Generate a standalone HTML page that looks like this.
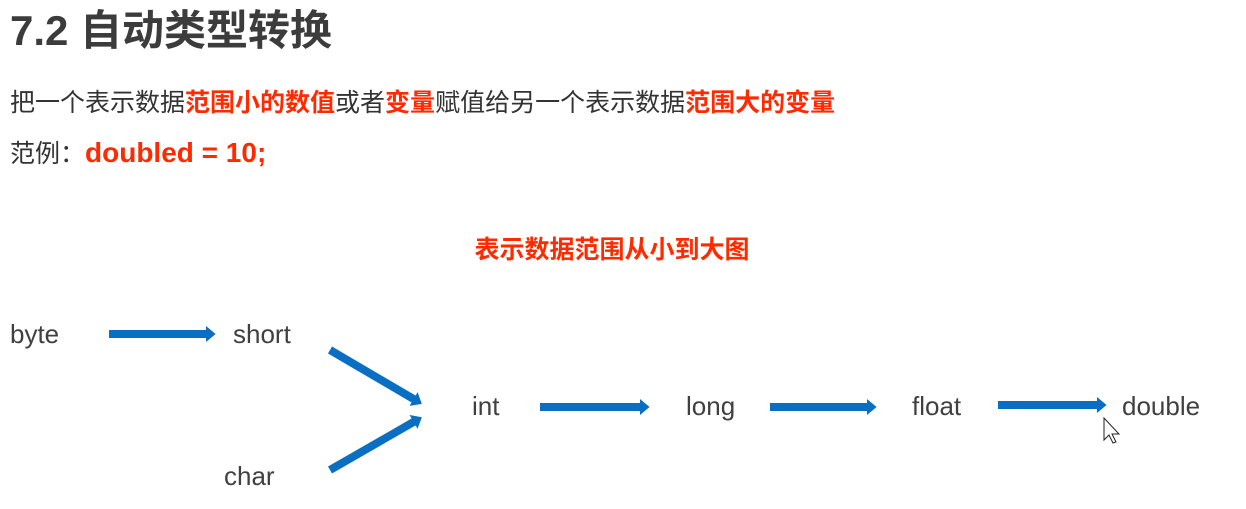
<!DOCTYPE html>
<html><head><meta charset="utf-8"><style>
body{margin:0;width:1246px;height:509px;background:#fff;overflow:hidden;font-family:"Liberation Sans","Noto Sans CJK SC",sans-serif;}
</style></head><body>
<svg width="1246" height="509" xmlns="http://www.w3.org/2000/svg" style="position:absolute;left:0;top:0">
<text x="10" y="45" font-size="42" font-weight="bold" fill="#3c3c3c" font-family="Liberation Sans, Noto Sans CJK SC, sans-serif">7.2 自动类型转换</text>
<text x="10" y="111" font-size="25" fill="#333" font-family="Liberation Sans, Noto Sans CJK SC, sans-serif">把一个表示数据<tspan fill="#ff2a00" font-weight="bold">范围小的数值</tspan>或者<tspan fill="#ff2a00" font-weight="bold">变量</tspan>赋值给另一个表示数据<tspan fill="#ff2a00" font-weight="bold">范围大的变量</tspan></text>
<text x="10" y="162" font-size="25" fill="#333" font-family="Liberation Sans, Noto Sans CJK SC, sans-serif">范例：<tspan fill="#ff2a00" font-weight="bold" font-size="28">doubled = 10;</tspan></text>
<text x="612" y="258" text-anchor="middle" font-size="25" font-weight="bold" fill="#ff2a00" font-family="Liberation Sans, Noto Sans CJK SC, sans-serif">表示数据范围从小到大图</text>
<g font-size="26" fill="#404040" font-family="Liberation Sans, sans-serif">
<text x="10" y="343">byte</text>
<text x="233" y="343">short</text>
<text x="472" y="415">int</text>
<text x="686" y="415">long</text>
<text x="912" y="415">float</text>
<text x="1122" y="415">double</text>
<text x="224" y="485">char</text>
</g>
<defs><marker id="a" markerWidth="2" markerHeight="2" refX="0.5" refY="1" orient="auto" markerUnits="strokeWidth"><path d="M0,0 L1.2,1 L0,2 Z" fill="#0a6fc2"/></marker></defs>
<g stroke="#0a6fc2" stroke-width="8" marker-end="url(#a)">
<line x1="109" y1="334" x2="210" y2="334"/>
<line x1="330" y1="350" x2="417" y2="401"/>
<line x1="330" y1="470" x2="417" y2="420"/>
<line x1="540" y1="407" x2="644" y2="407"/>
<line x1="770" y1="407" x2="871" y2="407"/>
<line x1="998" y1="405" x2="1101" y2="405"/>
</g>
<path d="M1104,418 L1104,440 L1109,435 L1113,443 L1116,442 L1112,434 L1119,434 Z" fill="#fff" stroke="#222" stroke-width="1"/>
</svg>
</body></html>
